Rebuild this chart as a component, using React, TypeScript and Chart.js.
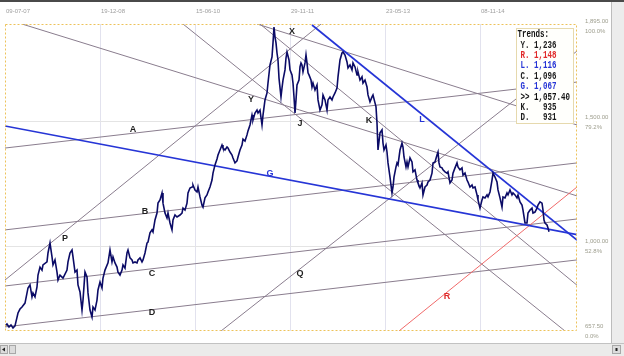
import React, { useEffect, useRef } from "react";
import { Chart, registerables } from "chart.js";

Chart.register(...registerables);

// ---- axis data ----
const barMin = 0;
const barMax = 572;
const xTickBars = [0, 95, 190, 285, 380, 475];
const xTickLabels = ["09-07-07", "19-12-08", "15-06-10", "29-11-11", "23-05-13", "08-11-14"];
const priceMin = 657.5;
const priceMax = 1895;
const yTickValues = [657.5, 1000, 1500, 1895];
const yTickPrices = ["657.50", "1,000.00", "1,500.00", "1,895.00"];
const yTickPercents = ["0.0%", "52.8%", "79.2%", "100.0%"];

// ---- price series: [bar index, close] ----
const priceSeries: [number, number][] = [
  [0,678],[2,686],[4,674],[6,682],[8,670],[10,678],[13,730],[15,746],[17,754],[20,770],[23,831],[25,843],[27,795],[28,811],[30,795],[32,835],[33,883],[35,915],[37,903],[38,924],[42,936],[43,972],[45,1012],[47,956],[48,924],[50,944],[52,895],[53,863],[55,883],[58,871],[62,903],[63,936],[65,972],[67,984],[68,956],[70,895],[72,903],[73,843],[75,815],[77,742],[78,782],[80,895],[82,875],[83,811],[85,742],[87,714],[88,754],[90,742],[92,782],[93,823],[95,855],[97,831],[98,871],[100,903],[103,932],[105,984],[107,936],[108,956],[110,932],[112,915],[113,895],[115,883],[117,903],[118,924],[120,911],[122,972],[123,984],[125,952],[127,944],[128,932],[130,936],[132,932],[133,944],[135,952],[137,936],[138,944],[140,972],[142,1012],[143,1016],[145,1053],[147,1065],[148,1057],[150,1105],[152,1133],[153,1173],[155,1186],[157,1214],[158,1173],[160,1133],[162,1113],[163,1133],[165,1093],[167,1065],[168,1105],[170,1125],[172,1117],[175,1125],[177,1133],[178,1153],[180,1145],[182,1173],[183,1214],[185,1234],[187,1238],[188,1246],[190,1226],[192,1218],[193,1238],[195,1198],[197,1165],[198,1157],[200,1194],[202,1206],[203,1218],[205,1238],[207,1266],[208,1294],[210,1327],[212,1351],[213,1367],[215,1387],[217,1407],[218,1395],[220,1387],[222,1399],[223,1395],[225,1379],[227,1367],[228,1355],[230,1335],[232,1343],[233,1359],[235,1387],[237,1407],[238,1431],[240,1423],[242,1448],[243,1464],[245,1488],[247,1528],[248,1508],[250,1536],[252,1548],[253,1536],[255,1548],[257,1488],[258,1528],[260,1589],[262,1617],[263,1657],[265,1730],[267,1762],[268,1819],[269,1883],[270,1843],[271,1819],[272,1778],[273,1750],[274,1677],[276,1601],[277,1637],[278,1669],[280,1710],[281,1758],[282,1782],[284,1750],[285,1710],[287,1690],[288,1657],[289,1601],[290,1536],[291,1589],[292,1649],[294,1669],[295,1722],[296,1738],[297,1730],[298,1702],[300,1738],[301,1770],[302,1738],[303,1698],[304,1690],[306,1669],[307,1641],[308,1657],[310,1629],[312,1649],[313,1589],[315,1548],[317,1569],[318,1609],[320,1589],[322,1548],[323,1589],[325,1601],[327,1589],[328,1601],[330,1617],[332,1637],[333,1682],[335,1750],[337,1778],[338,1782],[340,1770],[342,1742],[343,1718],[345,1730],[347,1710],[348,1738],[350,1722],[352,1690],[353,1702],[355,1669],[357,1682],[358,1657],[360,1669],[362,1641],[363,1609],[365,1581],[367,1601],[368,1609],[370,1577],[371,1561],[372,1496],[373,1387],[375,1456],[377,1468],[378,1415],[379,1387],[381,1407],[382,1379],[383,1335],[385,1278],[387,1214],[388,1238],[389,1278],[391,1319],[392,1335],[393,1327],[395,1387],[397,1415],[398,1399],[399,1359],[401,1319],[402,1339],[403,1319],[405,1355],[407,1339],[408,1299],[410,1307],[412,1266],[413,1254],[415,1234],[417,1254],[418,1206],[420,1238],[422,1246],[423,1258],[425,1266],[427,1294],[428,1335],[430,1339],[432,1367],[433,1379],[434,1335],[435,1319],[437,1315],[438,1307],[440,1299],[442,1294],[443,1299],[445,1254],[447,1266],[448,1294],[450,1315],[452,1335],[453,1319],[455,1307],[457,1315],[458,1286],[460,1294],[462,1266],[463,1258],[465,1238],[467,1246],[468,1234],[470,1238],[472,1206],[473,1186],[475,1153],[477,1186],[478,1198],[480,1194],[482,1206],[483,1198],[485,1218],[487,1266],[488,1294],[490,1278],[492,1258],[493,1226],[495,1194],[497,1157],[498,1198],[500,1194],[502,1214],[503,1206],[505,1226],[507,1206],[508,1214],[510,1206],[512,1194],[513,1206],[515,1178],[517,1165],[518,1145],[520,1093],[522,1093],[523,1133],[525,1145],[527,1153],[528,1133],[530,1137],[532,1153],[533,1165],[535,1178],[537,1173],[538,1145],[539,1105],[540,1093],[542,1085],[543,1073],[544,1057.4]
];

// ---- trend lines: [bar, price] anchors ----
const trendLines: { name: string; from: [number, number]; to: [number, number] }[] = [
  { name: "Y", from: [17, 1895], to: [572, 1202] },
  { name: "J", from: [178, 1895], to: [560, 657.5] },
  { name: "X", from: [252, 1895], to: [572, 1488] },
  { name: "K", from: [255, 1895], to: [572, 842] },
  { name: "A", from: [0, 1395], to: [572, 1661] },
  { name: "B", from: [0, 1065], to: [572, 1335] },
  { name: "C", from: [0, 839], to: [572, 1109] },
  { name: "D", from: [0, 674], to: [572, 944] },
  { name: "P", from: [0, 863], to: [316, 1895] },
  { name: "Q", from: [216, 657.5], to: [572, 1786] },
  { name: "G", from: [0, 1484], to: [572, 1046] },
  { name: "L", from: [307, 1891], to: [572, 1024] },
  { name: "R", from: [394, 657.5], to: [572, 1238] },
];
const blueTrends = ["G", "L"];
const redTrends = ["R"];

// trend label anchors [bar, price]
const trendLabelNames = ["A", "B", "C", "D", "P", "G", "L", "R", "X", "Y", "J", "K", "Q"];
const trendLabelBars = [128, 140, 147, 147, 60, 265, 417, 442, 287, 246, 295, 364, 295];
const trendLabelPrices = [1468, 1141, 891, 730, 1032, 1294, 1508, 795, 1863, 1589, 1492, 1504, 891];

// legend box
const legendTitle = "Trends:";
const legendNames = ["Y.", "R.", "L.", "C.", "G.", ">>", "K.", "D."];
const legendValues = ["1,236", "1,148", "1,116", "1,096", "1,067", "1,057.40", "935", "931"];

const GREY = "#8a7d8e";
const BLUE = "#2635d6";
const RED = "#f06a6a";
const colorFor = (n: string) =>
  blueTrends.includes(n) ? BLUE : redTrends.includes(n) ? RED : GREY;
const textColorFor = (n: string) =>
  blueTrends.includes(n) ? BLUE : redTrends.includes(n) ? "#e02a2a" : "#1e1e1e";

const chromePlugin = {
  id: "chrome",
  beforeDraw(chart: any) {
    const { ctx, width, height } = chart;
    ctx.save();
    ctx.fillStyle = "#ffffff";
    ctx.fillRect(0, 0, width, height);
    // right strip
    ctx.fillStyle = "#ececec";
    ctx.fillRect(611, 0, width - 611, 343);
    ctx.fillStyle = "#bcbcbc";
    ctx.fillRect(611, 0, 1, 343);
    // bottom scrollbar
    ctx.fillStyle = "#ebebea";
    ctx.fillRect(0, 343, width, height - 343);
    ctx.fillStyle = "#c2c2c2";
    ctx.fillRect(0, 343, width, 1);
    ctx.fillStyle = "#dcdcdc";
    ctx.fillRect(0, 345, 8, 9);
    ctx.fillRect(9, 345, 7, 9);
    ctx.fillRect(612, 345, 9, 9);
    ctx.strokeStyle = "#a8a8a8";
    ctx.lineWidth = 1;
    ctx.strokeRect(0.5, 345.5, 7, 8);
    ctx.strokeRect(9.5, 345.5, 6, 8);
    ctx.strokeRect(612.5, 345.5, 8, 8);
    ctx.fillStyle = "#222";
    ctx.beginPath();
    ctx.moveTo(2, 349.5); ctx.lineTo(5, 347.5); ctx.lineTo(5, 351.5); ctx.closePath();
    ctx.fill();
    ctx.fillRect(615.5, 348, 2, 3);
    // top dark edge
    ctx.fillStyle = "#4a4a4a";
    ctx.fillRect(0, 0, width, 2);
    ctx.restore();
  },
  afterDatasetsDraw(chart: any) {
    const { ctx, chartArea } = chart;
    const xs = chart.scales.x;
    const ys = chart.scales.y;
    ctx.save();
    // dashed plot border
    ctx.setLineDash([2, 2]);
    ctx.strokeStyle = "#edc25a";
    ctx.lineWidth = 1;
    ctx.strokeRect(chartArea.left + 0.5, chartArea.top + 0.5, chartArea.right - chartArea.left - 1, chartArea.bottom - chartArea.top - 1);
    ctx.setLineDash([]);

    // trend labels
    ctx.font = 'bold 9px "Liberation Sans"';
    ctx.textAlign = "center";
    ctx.textBaseline = "middle";
    trendLabelNames.forEach((n, i) => {
      ctx.fillStyle = textColorFor(n);
      ctx.fillText(n, xs.getPixelForValue(trendLabelBars[i]), ys.getPixelForValue(trendLabelPrices[i]));
    });

    // legend box
    const bx = 516.5, by = 28.5, bw = 57, bh = 95;
    ctx.fillStyle = "#fffffc";
    ctx.fillRect(bx, by, bw, bh);
    ctx.strokeStyle = "#e6d9ad";
    ctx.strokeRect(bx, by, bw, bh);
    ctx.textAlign = "left";
    ctx.font = 'bold 10px "Liberation Mono"';
    const drawMono = (s: string, x: number, y: number, color: string) => {
      ctx.save();
      ctx.translate(x, y);
      ctx.scale(0.75, 1);
      ctx.fillStyle = color;
      ctx.fillText(s, 0, 0);
      ctx.restore();
    };
    drawMono(legendTitle, 517.5, 34.5, "#111");
    legendNames.forEach((n, i) => {
      const letter = n.replace(".", "");
      const color = n === ">>" ? "#111" : textColorFor(letter);
      drawMono(n + " " + legendValues[i].padStart(5, " "), 520.5, 45 + i * 10.4, color);
    });

    // top date labels
    ctx.font = '6px "Liberation Sans"';
    ctx.fillStyle = "#9e9e9e";
    ctx.textAlign = "left";
    xTickBars.forEach((b, i) => {
      ctx.fillText(xTickLabels[i], xs.getPixelForValue(b) + 1, 11);
    });
    // right price labels
    ctx.fillStyle = "#9d9d8d";
    yTickValues.forEach((v, i) => {
      const py = ys.getPixelForValue(v);
      const off = i === yTickValues.length - 1 ? 2 : 0;
      ctx.fillText(yTickPrices[i], chartArea.right + 8, py - 4.5 + off);
      ctx.fillText(yTickPercents[i], chartArea.right + 8, py + 5.5 + off);
    });
    ctx.restore();
  },
};

export default function App() {
  const ref = useRef<HTMLCanvasElement>(null);
  useEffect(() => {
    const trendSets = trendLines.map((t) => ({
      label: t.name,
      data: [
        { x: t.from[0], y: t.from[1] },
        { x: t.to[0], y: t.to[1] },
      ],
      borderColor: colorFor(t.name),
      borderWidth: blueTrends.includes(t.name) ? 1.7 : 1,
      pointRadius: 0,
      tension: 0,
      order: blueTrends.includes(t.name) || redTrends.includes(t.name) ? 2 : 3,
    }));
    const chart = new Chart(ref.current as HTMLCanvasElement, {
      type: "line",
      data: {
        datasets: [
          {
            label: "Gold",
            data: priceSeries.map(([x, y]) => ({ x, y })),
            borderColor: "#0b0b66",
            borderWidth: 1.6,
            pointRadius: 0,
            tension: 0,
            order: 1,
          },
          ...trendSets,
        ] as any,
      },
      options: {
        animation: false,
        responsive: false,
        devicePixelRatio: 1,
        events: [],
        layout: { padding: { left: 5, top: 24, right: 47, bottom: 25 } },
        plugins: { legend: { display: false }, tooltip: { enabled: false } },
        scales: {
          x: {
            type: "linear",
            min: barMin,
            max: barMax,
            position: "top",
            ticks: { display: false },
            border: { display: false },
            grid: {
              drawTicks: false,
              lineWidth: 1,
              color: (c: any) => (c.tick && c.tick.value === barMin ? "rgba(0,0,0,0)" : "#e2e2ee"),
            },
            afterBuildTicks: (s: any) => {
              s.ticks = xTickBars.map((v) => ({ value: v }));
            },
          },
          y: {
            type: "linear",
            min: priceMin,
            max: priceMax,
            position: "right",
            ticks: { display: false },
            border: { display: false },
            grid: {
              drawTicks: false,
              lineWidth: 1,
              color: (c: any) =>
                c.tick && (c.tick.value === priceMin || c.tick.value === priceMax) ? "rgba(0,0,0,0)" : "#e4e4e4",
            },
            afterBuildTicks: (s: any) => {
              s.ticks = yTickValues.map((v) => ({ value: v }));
            },
          },
        },
      } as any,
      plugins: [chromePlugin],
    });
    return () => chart.destroy();
  }, []);
  return (
    <div style={{ position: "fixed", left: 0, top: 0, width: 624, height: 356 }}>
      <canvas ref={ref} width={624} height={356} style={{ display: "block", width: 624, height: 356 }} />
    </div>
  );
}
